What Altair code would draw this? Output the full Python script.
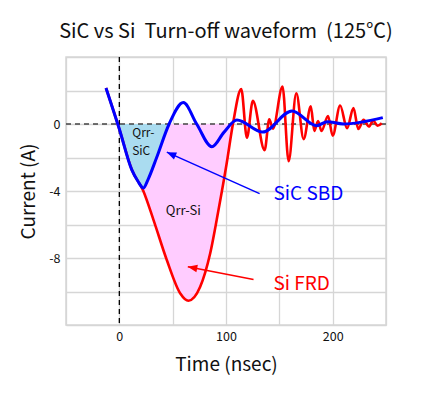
import math
import altair as alt
import pandas as pd

# ---- data ----
red_t = [-12.5, 0, 11.6, 22.5, 32, 44.5, 57, 64.8, 75.8, 85.2, 93, 100.5, 106.5,
         114.3, 119.6, 125.2, 136.2, 140.6, 144, 153, 158.7, 165.9, 172.8, 179.5,
         182.8, 186.3, 189.5, 195.7, 200, 207, 213.5, 219.5, 224, 229, 234, 238, 242, 246]
red_i = [2.15, -0.3, -2.72, -4.0, -5.72, -8.12, -10.1, -10.55, -9.72, -7.72, -5.12, -2.4, 0,
         2.08, -0.82, 1.38, -1.56, 0.28, -0.28, 2.24, -2.22, 1.84, -0.9, 1.05,
         -0.42, 0.18, -0.42, 0.48, -0.7, 1.1, -0.25, 0.95, -0.3, 0.25, -0.15, 0.2, -0.1, 0.05]

blue_t = [-12.5, 0, 11.6, 17.3, 22.5, 27, 35, 46.7, 60, 72.5, 86.8, 98, 110.2,
          134.3, 161.9, 185, 195, 210, 247]
blue_i = [2.15, -0.3, -2.72, -3.4, -3.82, -3.3, -2.0, 0, 1.28, 0, -1.36, -0.5, 0.24,
          -0.48, 0.78, -0.1, 0.14, 0.0, 0.38]

red_fill_end = 106.5
blue_fill_end = 46.7

x_domain = [-50, 250]
y_domain = [-12, 4]
x_grid = list(range(-50, 251, 50))
y_grid = list(range(-12, 5, 2))
x_labels = [0, 100, 200]
y_labels = [0, -4, -8]

title_text = "SiC vs Si\u00a0 Turn-off waveform\u00a0 (125\u2103)"

# annotations (data coordinates)
qrr_sic_1 = {"t": 22.5, "i": -0.55, "text": "Qrr-"}
qrr_sic_2 = {"t": 20.5, "i": -1.6, "text": "SiC"}
qrr_si = {"t": 60, "i": -5.2, "text": "Qrr-Si"}
sic_label = {"t": 144.5, "i": -4.2, "text": "SiC SBD"}
si_label = {"t": 144.5, "i": -9.55, "text": "Si FRD"}
blue_arrow = {"t": 131.5, "i": -4.16, "t2": 44.5, "i2": -1.68}
red_arrow = {"t": 125.8, "i": -9.28, "t2": 64.2, "i2": -8.52}

W, H = 320, 268
FONT = "Noto Sans CJK JP"
RED = "#ff0000"
BLUE = "#0000ff"

red_df = pd.DataFrame({"t": red_t, "i": red_i})
blue_df = pd.DataFrame({"t": blue_t, "i": blue_i})
red_fill = red_df[(red_df.t >= 0) & (red_df.t <= red_fill_end)]
blue_fill = blue_df[(blue_df.t >= 0) & (blue_df.t <= blue_fill_end)]

xs = alt.Scale(domain=x_domain, nice=False, zero=False)
ys = alt.Scale(domain=y_domain, nice=False, zero=False)

x_lab_expr = " || ".join(f"datum.value == {v}" for v in x_labels)
y_lab_expr = " || ".join(f"datum.value == {v}" for v in y_labels)

xaxis = alt.Axis(values=x_grid, labelExpr=f"({x_lab_expr}) ? ('' + datum.value) : ''",
                 title="Time (nsec)", ticks=False, domain=False, grid=True,
                 labelPadding=5, titlePadding=13)
yaxis = alt.Axis(values=y_grid, labelExpr=f"({y_lab_expr}) ? ('' + datum.value) : ''",
                 title="Current (A)", ticks=False, domain=False, grid=True,
                 labelPadding=6, titlePadding=10)


def X(f="t"):
    return alt.X(f"{f}:Q", scale=xs, axis=xaxis)


def Y(f="i"):
    return alt.Y(f"{f}:Q", scale=ys, axis=yaxis)


pink = alt.Chart(red_fill).mark_area(color="#ffccff", opacity=1, interpolate="monotone").encode(
    x=X(), y=Y(), y2=alt.datum(0))
lblue = alt.Chart(blue_fill).mark_area(color="#aadcf0", opacity=1, interpolate="monotone").encode(
    x=X(), y=Y(), y2=alt.datum(0))

zero_df = pd.DataFrame({"t": [0], "i": [0]})
hline = alt.Chart(zero_df).mark_rule(color="#444444", strokeDash=[5, 4], strokeWidth=1.3).encode(y=Y())
vline = alt.Chart(zero_df).mark_rule(color="#000000", strokeDash=[5, 4], strokeWidth=1.3).encode(x=X())

red_line = alt.Chart(red_df).mark_line(color=RED, strokeWidth=2.6, interpolate="monotone").encode(x=X(), y=Y())
blue_line = alt.Chart(blue_df).mark_line(color=BLUE, strokeWidth=3, interpolate="monotone").encode(x=X(), y=Y())


def text_layer(d, color, size, align="center", baseline="middle"):
    df = pd.DataFrame({"t": [d["t"]], "i": [d["i"]], "txt": [d["text"]]})
    return alt.Chart(df).mark_text(color=color, fontSize=size, font=FONT, align=align,
                                   baseline=baseline).encode(
        x=X(), y=Y(), text="txt")


def arrow_layers(a, color):
    df = pd.DataFrame([a])
    dxp = (a["t2"] - a["t"]) * W / (x_domain[1] - x_domain[0])
    dyp = -(a["i2"] - a["i"]) * H / (y_domain[1] - y_domain[0])
    ang = math.degrees(math.atan2(dxp, -dyp)) % 360
    shaft = alt.Chart(df).mark_rule(color=color, strokeWidth=1.5).encode(
        x=X(), y=Y(), x2="t2:Q", y2="i2:Q")
    head = alt.Chart(df).mark_point(shape="M0,0L-0.75,1.9L0.75,1.9Z", filled=True, size=100,
                                    color=color, opacity=1, angle=ang).encode(
        x=X("t2"), y=Y("i2"))
    return shaft + head


chart = alt.layer(
    pink, lblue, hline, vline, red_line, blue_line,
    text_layer(qrr_sic_1, "#111111", 12),
    text_layer(qrr_sic_2, "#111111", 12),
    text_layer(qrr_si, "#111111", 13),
    text_layer(sic_label, BLUE, 19, "left"),
    text_layer(si_label, RED, 19, "left"),
    arrow_layers(blue_arrow, BLUE),
    arrow_layers(red_arrow, RED),
).properties(
    width=W, height=H,
    title=alt.Title(title_text, fontSize=20, font=FONT, fontWeight="normal", color="#111111", offset=14),
    padding={"left": 11, "top": 14, "right": 5, "bottom": 5},
).configure_view(
    stroke="#d6d6d6", strokeWidth=1.5
).configure_axis(
    gridColor="#d6d6d6", gridWidth=1.3, labelFont=FONT, titleFont=FONT,
    labelFontSize=12.5, labelColor="#111111", titleFontSize=19, titleFontWeight="normal",
    titleColor="#111111"
)

chart.save("out.html", embed_options={"renderer": "svg", "actions": False})
